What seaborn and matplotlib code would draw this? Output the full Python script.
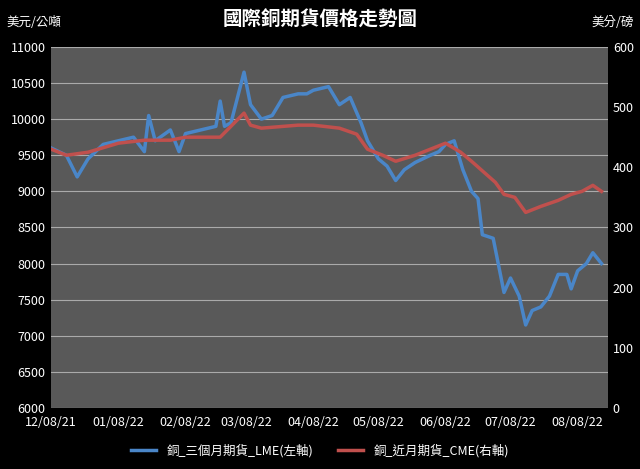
import matplotlib
matplotlib.use("Agg")
import matplotlib.pyplot as plt
import matplotlib.dates as mdates
import pandas as pd
import seaborn as sns

plt.rcParams["font.family"] = ["Noto Sans CJK TC", "DejaVu Sans"]

# ── Data ──────────────────────────────────────────────────────────────────────
lme_dates = ["2021-12-08", "2021-12-15", "2021-12-20", "2021-12-25", "2022-01-01", "2022-01-08",
             "2022-01-15", "2022-01-20", "2022-01-22", "2022-01-25", "2022-02-01", "2022-02-05",
             "2022-02-08", "2022-02-15", "2022-02-22", "2022-02-24", "2022-02-26", "2022-03-01",
             "2022-03-04", "2022-03-07", "2022-03-10", "2022-03-15", "2022-03-20", "2022-03-25",
             "2022-04-01", "2022-04-05", "2022-04-08", "2022-04-15", "2022-04-20", "2022-04-25",
             "2022-04-30", "2022-05-03", "2022-05-08", "2022-05-12", "2022-05-16", "2022-05-20",
             "2022-05-25", "2022-06-01", "2022-06-05", "2022-06-08", "2022-06-12", "2022-06-16",
             "2022-06-20", "2022-06-23", "2022-06-25", "2022-06-30", "2022-07-05", "2022-07-08",
             "2022-07-12", "2022-07-15", "2022-07-18", "2022-07-22", "2022-07-26", "2022-07-30",
             "2022-08-03", "2022-08-05", "2022-08-08", "2022-08-12", "2022-08-15", "2022-08-19"]
lme_values = [9600, 9500, 9200, 9450, 9650, 9700,
              9750, 9550, 10050, 9700, 9850, 9550,
              9800, 9850, 9900, 10250, 9900, 9950,
              10300, 10650, 10200, 10000, 10050, 10300,
              10350, 10350, 10400, 10450, 10200, 10300,
              9950, 9700, 9450, 9350, 9150, 9300,
              9400, 9500, 9550, 9650, 9700, 9300,
              9000, 8900, 8400, 8350, 7600, 7800,
              7550, 7150, 7350, 7400, 7550, 7850,
              7850, 7650, 7900, 8000, 8150, 8000]

cme_dates = ["2021-12-08", "2021-12-15", "2021-12-25", "2022-01-08", "2022-01-20", "2022-02-01",
             "2022-02-08", "2022-02-24", "2022-03-07", "2022-03-10", "2022-03-15", "2022-04-01",
             "2022-04-08", "2022-04-20", "2022-04-28", "2022-05-03", "2022-05-10", "2022-05-16",
             "2022-05-25", "2022-06-01", "2022-06-08", "2022-06-15", "2022-06-20", "2022-07-01",
             "2022-07-05", "2022-07-10", "2022-07-15", "2022-07-22", "2022-07-30", "2022-08-05",
             "2022-08-10", "2022-08-15", "2022-08-19"]
cme_values = [430, 420, 425, 440, 445, 445,
              450, 450, 490, 470, 465, 470,
              470, 465, 455, 430, 420, 410,
              420, 430, 440, 425, 410, 375,
              355, 350, 325, 335, 345, 355,
              360, 370, 360]

tick_dates = ["2021-12-08", "2022-01-08", "2022-02-08", "2022-03-08", "2022-04-08",
              "2022-05-08", "2022-06-08", "2022-07-08", "2022-08-08"]

lme = pd.DataFrame({"date": pd.to_datetime(lme_dates), "price": lme_values})
cme = pd.DataFrame({"date": pd.to_datetime(cme_dates), "price": cme_values})

# ── Plot ──────────────────────────────────────────────────────────────────────
fig, ax = plt.subplots(figsize=(6.4, 4.69), dpi=100)
fig.patch.set_facecolor("black")
ax.set_facecolor("#595959")
ax2 = ax.twinx()

sns.lineplot(data=lme, x="date", y="price", ax=ax, color="#4a86c8", linewidth=2.5,
             label="銅_三個月期貨_LME(左軸)", legend=False)
sns.lineplot(data=cme, x="date", y="price", ax=ax2, color="#c0504d", linewidth=2.5,
             label="銅_近月期貨_CME(右軸)", legend=False)

ax.set_ylim(6000, 11000)
ax.set_yticks(range(6000, 11001, 500))
ax2.set_ylim(0, 600)
ax2.set_yticks(range(0, 601, 100))
ax.set_xlim(pd.Timestamp("2021-12-08"), pd.Timestamp("2022-08-22"))
ax.set_xticks(pd.to_datetime(tick_dates))
ax.xaxis.set_major_formatter(mdates.DateFormatter("%m/%d/%y"))
ax.grid(axis="y", color="#aaaaaa", linewidth=0.8)
ax.grid(axis="x", visible=False)
ax.set_axisbelow(True)

for a in (ax, ax2):
    a.set_xlabel("")
    a.set_ylabel("")
    a.tick_params(colors="white", labelsize=9, length=0)
    for s in a.spines.values():
        s.set_visible(False)
ax.tick_params(axis="x", pad=6)
ax.tick_params(axis="y", pad=4)

fig.text(0.5, 0.945, "國際銅期貨價格走勢圖", color="white", fontsize=14,
         fontweight="bold", ha="center")
fig.text(0.01, 0.945, "美元/公噸", color="white", fontsize=9)
fig.text(0.99, 0.945, "美分/磅", color="white", fontsize=9, ha="right")

h1, l1 = ax.get_legend_handles_labels()
h2, l2 = ax2.get_legend_handles_labels()
fig.legend(h1 + h2, l1 + l2, loc="lower center", ncol=2, frameon=False,
           labelcolor="white", fontsize=9, bbox_to_anchor=(0.5, 0.0))

fig.subplots_adjust(left=0.08, right=0.95, top=0.9, bottom=0.13)
fig.savefig("out.png", dpi=100, facecolor="black")
